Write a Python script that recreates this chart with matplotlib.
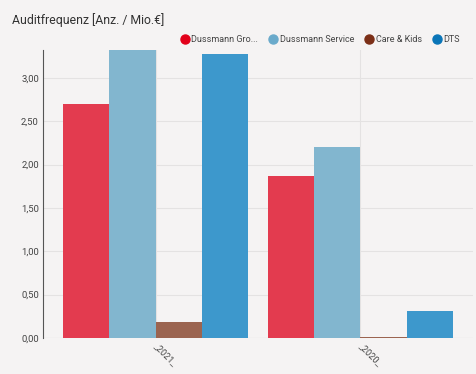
import matplotlib
matplotlib.use("Agg")
import matplotlib.pyplot as plt
import numpy as np
from matplotlib.lines import Line2D

plt.rcParams['font.family'] = ['Roboto', 'DejaVu Sans']

categories = ["_2021_", "_2020_"]
series_names = ["Dussmann Gro...", "Dussmann Service", "Care & Kids", "DTS"]
values = {
    "Dussmann Gro...": [2.70, 1.87],
    "Dussmann Service": [3.40, 2.20],
    "Care & Kids": [0.18, 0.01],
    "DTS": [3.27, 0.31],
}
yticks = [0.0, 0.5, 1.0, 1.5, 2.0, 2.5, 3.0]
ytick_labels = ["0,00", "0,50", "1,00", "1,50", "2,00", "2,50", "3,00"]

bar_colors = ["#e33b4f", "#82b6cf", "#9b6450", "#3d98cc"]
legend_colors = ["#e2001a", "#6aaacb", "#7b2f17", "#0a75b8"]
bg = "#f5f3f3"

fig = plt.figure(figsize=(4.77, 3.74), dpi=100, facecolor=bg)
ax = fig.add_axes([43/477, 1-338/374, (473-43)/477, (338-50)/374])
ax.set_facecolor(bg)

x = np.arange(len(categories))
group_w = 0.907
bw = group_w / len(series_names)
for i, name in enumerate(series_names):
    offs = -group_w/2 + bw*(i+0.5)
    ax.bar(x + offs, values[name], width=bw, color=bar_colors[i], zorder=3, linewidth=0)

ax.set_xlim(-0.55, 1.55)
ax.set_ylim(0, 3.32)
ax.set_yticks(yticks)
ax.set_yticklabels(ytick_labels, fontsize=6.8, color="#444444")
ax.set_xticks(x)
ax.set_xticklabels(categories, rotation=-45, ha="left", va="center", rotation_mode="anchor",
                   fontsize=6.5, color="#444444")
ax.tick_params(axis="x", length=0, pad=5)
ax.tick_params(axis="y", length=0, pad=3)
ax.grid(True, color="#e4e2e2", linewidth=0.8, zorder=0)
for s in ["top", "right", "bottom"]:
    ax.spines[s].set_visible(False)
ax.spines["left"].set_color("#555555")
ax.spines["left"].set_linewidth(0.8)
ax.axhline(0, color="#e0dede", linewidth=0.8, zorder=1)

fig.text(12/477, 1-20/374, "Auditfrequenz [Anz. / Mio.€]", fontsize=8.8, color="#333333",
         ha="left", va="center")

handles = [Line2D([0], [0], marker="o", linestyle="", markersize=6.5,
                  markerfacecolor=c, markeredgecolor=c) for c in legend_colors]
fig.legend(handles, series_names, loc="center right", bbox_to_anchor=(460/477, 1-40/374),
           ncol=4, frameon=False, fontsize=6.5, handletextpad=0.15, columnspacing=1.15,
           handlelength=1.1, borderaxespad=0.0, borderpad=0.0, labelcolor="#444444")

fig.savefig("out.png", dpi=100, facecolor=bg)
